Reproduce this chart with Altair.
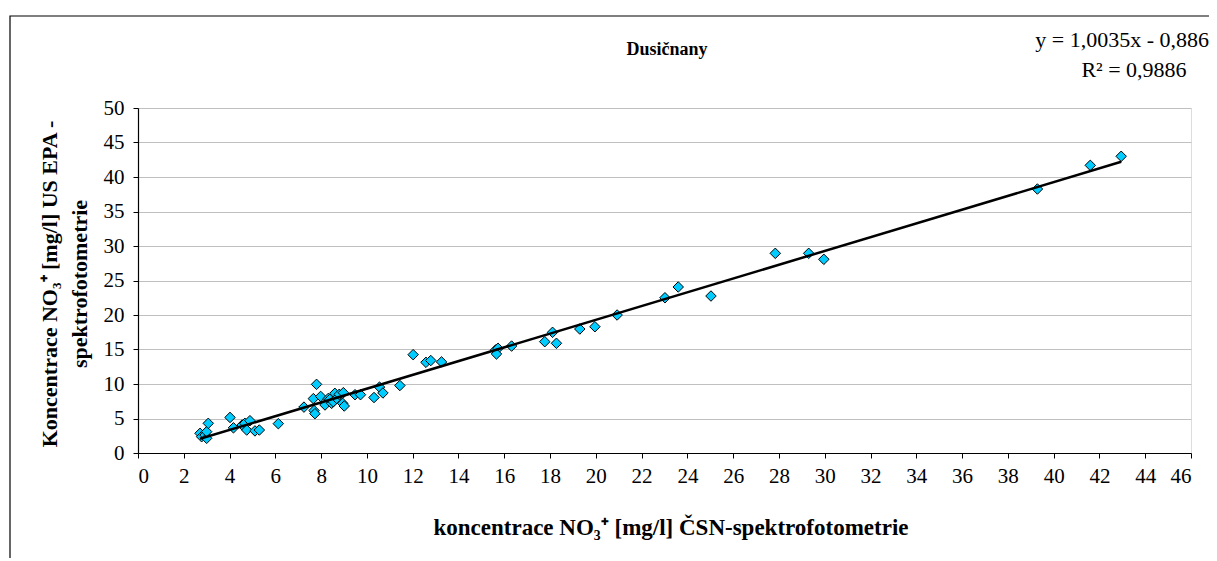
import altair as alt
import pandas as pd

# Data
x_csn = [2.71, 2.78, 2.93, 3.00, 3.00, 3.07, 4.02, 4.17, 4.55, 4.67, 4.75, 4.89, 5.11, 5.30, 6.13,
         7.25, 7.66, 7.80, 7.69, 7.73, 7.98, 8.17, 8.31, 8.38, 8.46, 8.53, 8.60, 8.68, 8.79, 8.97,
         8.94, 9.01, 9.48, 9.72, 10.31, 10.55, 10.70, 11.44, 12.02, 12.58, 12.79, 13.26,
         15.62, 15.73, 15.66, 16.32, 17.77, 18.11, 18.28, 19.30, 19.96, 20.93, 23.02, 23.60,
         25.03, 27.84, 29.30, 29.96, 39.29, 41.60, 42.95]
y_epa = [2.85, 2.36, 2.60, 2.13, 3.09, 4.30, 5.15, 3.65, 4.06, 4.30, 3.33, 4.68, 3.20, 3.33, 4.25,
         6.65, 7.88, 9.95, 6.15, 5.70, 8.20, 6.96, 7.90, 7.78, 7.20, 7.43, 8.65, 7.92, 8.50, 8.74,
         7.20, 6.81, 8.45, 8.45, 8.04, 9.55, 8.70, 9.78, 14.25, 13.14, 13.40, 13.20,
         14.93, 15.17, 14.35, 15.50, 16.13, 17.49, 15.90, 17.97, 18.30, 20.00, 22.50, 24.06,
         22.75, 28.94, 28.94, 28.07, 38.26, 41.69, 43.00]

x_ticks = list(range(0, 47, 2))
y_ticks = list(range(0, 51, 5))

title_text = "Dusičnany"
x_title = "koncentrace NO₃⁺ [mg/l] ČSN-spektrofotometrie"
y_title_1 = "Koncentrace NO₃⁺ [mg/l] US EPA -"
y_title_2 = "spektrofotometrie"
eq_text = "y = 1,0035x - 0,886"
r2_text = "R² = 0,9886"

df = pd.DataFrame({"x": x_csn, "y": y_epa})

FONT = "Liberation Serif"
W, H = 1053, 345

xs = alt.Scale(domain=[0, 46], nice=False, zero=False)
ys = alt.Scale(domain=[0, 50], nice=False, zero=False)

x_axis = alt.Axis(values=x_ticks, title=None, grid=False, tickSize=5, labelPadding=7,
                  labelOverlap=False, domainColor="black", tickColor="black", labelFont=FONT,
                  labelFontSize=21, labelColor="black", domainWidth=1.2)
y_axis = alt.Axis(values=y_ticks, title=None, grid=True, gridColor="#c0c0c0", tickSize=5,
                  labelPadding=9, labelOverlap=False, domainColor="black", tickColor="black",
                  labelFont=FONT, labelFontSize=21, labelColor="black", domainWidth=1.2)

base = alt.Chart(df)

trend = base.transform_regression("x", "y").mark_line(color="black", strokeWidth=2.5).encode(
    x=alt.X("x:Q", scale=xs, axis=x_axis),
    y=alt.Y("y:Q", scale=ys, axis=y_axis),
)

points = base.mark_point(shape="diamond", filled=True, fill="#00CCFF", stroke="black",
                         strokeWidth=1, size=110, opacity=1).encode(
    x=alt.X("x:Q", scale=xs, axis=x_axis),
    y=alt.Y("y:Q", scale=ys, axis=y_axis),
)

def label(text, x, y, size=17, weight="normal", align="center", angle=0):
    return alt.Chart(pd.DataFrame({"t": [text]})).mark_text(
        font=FONT, fontSize=size, fontWeight=weight, align=align, baseline="middle",
        angle=angle, color="black"
    ).encode(x=alt.value(x), y=alt.value(y), text="t:N")

border = alt.Chart(pd.DataFrame({"a": [0]})).mark_rect(
    fill=None, stroke="black", strokeWidth=1.2
).encode(x=alt.value(-128), x2=alt.value(1076), y=alt.value(-92), y2=alt.value(480))

chart = alt.layer(
    border,
    points,
    trend,
    label(title_text, 529, -58, size=18, weight="bold"),
    label(eq_text, 1071, -68, size=22, align="right"),
    label(r2_text, 996, -38, size=22),
    label(x_title, 533, 420, size=23, weight="bold"),
    label(y_title_1, -88, 176, size=22, weight="bold", angle=270),
    label(y_title_2, -58, 176, size=22, weight="bold", angle=270),
).properties(
    width=W, height=H,
    autosize=alt.AutoSizeParams(type="none"),
    padding={"left": 130, "top": 100, "right": 18, "bottom": 105},
).configure_view(
    stroke="#a0a0a0", strokeWidth=1
).configure_axis(
    labelFont=FONT, labelFontSize=21, labelColor="black"
).configure(background="white", font=FONT)

chart.save("out.html", embed_options={"renderer": "svg", "actions": False})
